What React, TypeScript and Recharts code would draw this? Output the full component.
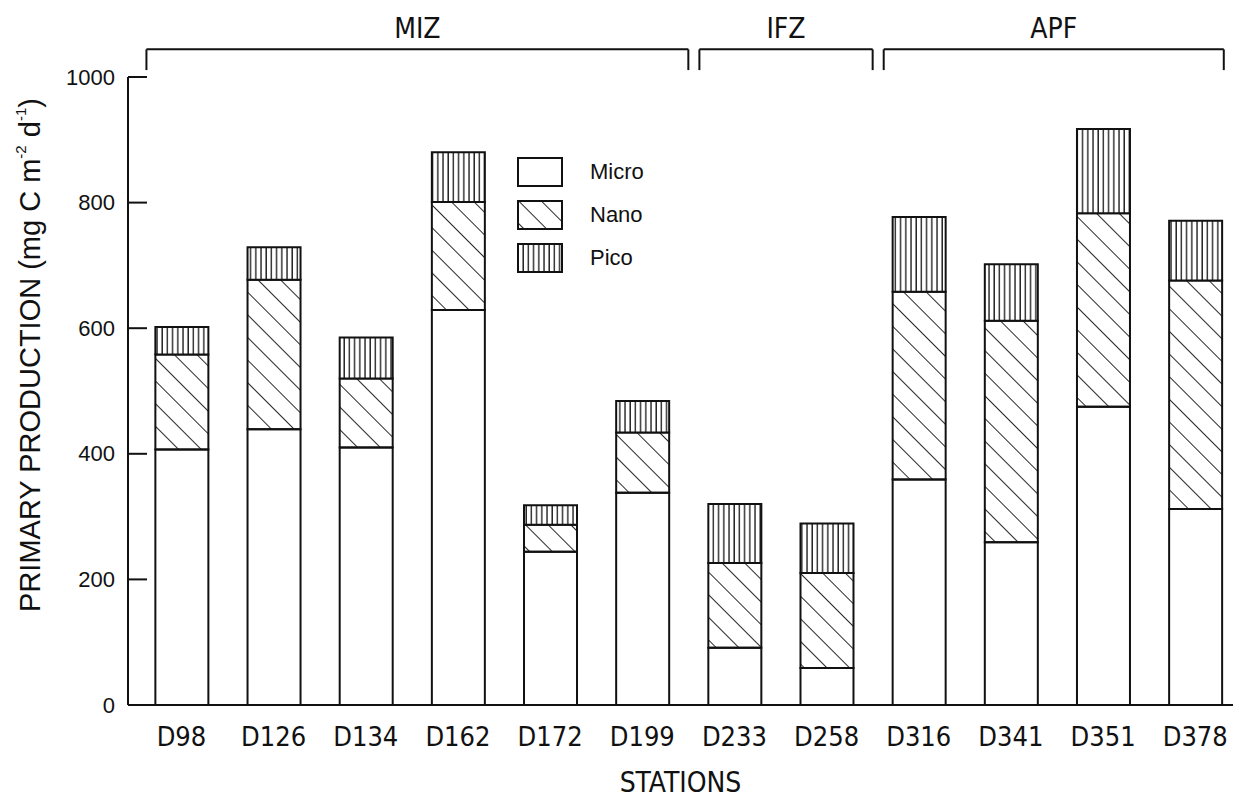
import React from 'react';
import { BarChart, Bar, XAxis, YAxis, ReferenceLine, Legend } from 'recharts';

// sampling stations, in cruise order
const STATIONS = ['D98', 'D126', 'D134', 'D162', 'D172', 'D199', 'D233', 'D258', 'D316', 'D341', 'D351', 'D378'];

// size-fractionated primary production, mg C m-2 d-1
const MICRO = [407, 439, 410, 629, 244, 338, 91, 59, 359, 259, 475, 312];
const NANO = [151, 238, 110, 172, 43, 96, 135, 151, 299, 353, 308, 364];
const PICO = [44, 52, 65, 79, 31, 50, 94, 79, 119, 90, 134, 95];

const Y_TICKS = [0, 200, 400, 600, 800, 1000];

// frontal zones and the stations that fall in each
const ZONES = [
  { name: 'MIZ', first: 'D98', last: 'D199' },
  { name: 'IFZ', first: 'D233', last: 'D258' },
  { name: 'APF', first: 'D316', last: 'D378' },
];

const data = STATIONS.map((station, i) => ({
  x: i,
  station,
  micro: MICRO[i],
  nano: NANO[i],
  pico: PICO[i],
}));

const INK = '#111';
const NARROW = '"Liberation Sans Narrow", "Arial Narrow", "DejaVu Sans Condensed", sans-serif';
const SANS = '"Liberation Sans", Arial, Helvetica, sans-serif';

const X_DOMAIN = [-0.58, 11.41];
const BRACKET_TOP = 1044;
const BRACKET_FOOT = 1011;

const LEGEND_ITEMS = [
  { key: 'micro', label: 'Micro', fill: '#fff' },
  { key: 'nano', label: 'Nano', fill: 'url(#hatchNano)' },
  { key: 'pico', label: 'Pico', fill: 'url(#hatchPico)' },
];

// tick label plus an inward-pointing tick mark
const YTick = (props: any) => {
  const { x, y, payload } = props;
  return (
    <g>
      <line x1={x + 13} x2={x + 32} y1={y} y2={y} stroke={INK} strokeWidth={2} />
      <text x={x} y={y} textAnchor="end" dominantBaseline="central" fontFamily={SANS} fontSize={22} fill={INK}>
        {payload.value}
      </text>
    </g>
  );
};

const YTitle = (props: any) => {
  const { viewBox } = props;
  const cx = 30;
  const cy = viewBox.y + viewBox.height / 2 - 36;
  return (
    <text
      x={cx}
      y={cy}
      transform={`rotate(-90, ${cx}, ${cy})`}
      textAnchor="middle"
      dominantBaseline="central"
      fontFamily={SANS}
      fontSize={29}
      fill={INK}
    >
      PRIMARY PRODUCTION (mg C m
      <tspan dy={-10} fontSize={15}>-2</tspan>
      <tspan dy={10}> d</tspan>
      <tspan dy={-10} fontSize={15}>-1</tspan>
      <tspan dy={10}>)</tspan>
    </text>
  );
};

const PatternLegend = () => (
  <div style={{ fontFamily: SANS, fontSize: 22, color: INK, lineHeight: 1 }}>
    {LEGEND_ITEMS.map((item) => (
      <div key={item.key} style={{ display: 'flex', alignItems: 'center', height: 43 }}>
        <svg width={46} height={30} style={{ display: 'block' }}>
          <rect x={1} y={1} width={44} height={28} fill={item.fill} stroke={INK} strokeWidth={2} />
        </svg>
        <span style={{ marginLeft: 27, fontSize: 22 }}>{item.label}</span>
      </div>
    ))}
  </div>
);

export default function App() {
  return (
    <div style={{ position: 'absolute', left: 0, top: 0, background: '#fff' }}>
      <BarChart
        width={1247}
        height={801}
        data={data}
        margin={{ top: 77, right: 14, bottom: 0, left: 58 }}
        barSize={53}
      >
        <defs>
          <pattern id="hatchNano" patternUnits="userSpaceOnUse" width={16} height={16} patternTransform="rotate(-45)">
            <line x1={0} y1={0} x2={0} y2={16} stroke={INK} strokeWidth={1.8} />
          </pattern>
          <pattern id="hatchPico" patternUnits="userSpaceOnUse" width={5.2} height={10}>
            <rect width={5.2} height={10} fill="#fff" />
            <line x1={1} y1={0} x2={1} y2={10} stroke={INK} strokeWidth={1.3} />
          </pattern>
        </defs>

        <XAxis
          dataKey="x"
          type="number"
          domain={X_DOMAIN}
          allowDataOverflow
          ticks={STATIONS.map((_, i) => i)}
          interval={0}
          tickFormatter={(v: number) => STATIONS[v]}
          tickLine={false}
          tickSize={0}
          tickMargin={22}
          height={96}
          axisLine={{ stroke: INK, strokeWidth: 2 }}
          tick={{ fill: INK, fontFamily: NARROW, fontSize: 27 }}
          label={{ value: 'STATIONS', position: 'insideBottom', offset: 9, fill: INK, fontFamily: NARROW, fontSize: 28 }}
        />
        {/* top and right edges of the frame */}
        <XAxis
          xAxisId="top"
          orientation="top"
          type="number"
          domain={X_DOMAIN}
          allowDataOverflow
          height={0}
          tick={false}
          tickLine={false}
          axisLine={{ stroke: INK, strokeWidth: 2 }}
        />
        <YAxis
          domain={[0, 1000]}
          ticks={Y_TICKS}
          allowDataOverflow
          width={70}
          tickLine={false}
          tickSize={0}
          tickMargin={13}
          tick={<YTick />}
          axisLine={{ stroke: INK, strokeWidth: 2 }}
          label={<YTitle />}
        />
        <YAxis
          yAxisId="right"
          orientation="right"
          domain={[0, 1000]}
          width={0}
          tick={false}
          tickLine={false}
          axisLine={{ stroke: INK, strokeWidth: 2 }}
        />

        <Legend
          layout="vertical"
          verticalAlign="middle"
          align="center"
          content={<PatternLegend />}
          wrapperStyle={{ position: 'absolute', left: 517, top: 150, width: 'auto', height: 'auto' }}
        />

        <Bar dataKey="micro" name="Micro" stackId="size" fill="#fff" stroke={INK} strokeWidth={2} isAnimationActive={false} />
        <Bar dataKey="nano" name="Nano" stackId="size" fill="url(#hatchNano)" stroke={INK} strokeWidth={2} isAnimationActive={false} />
        <Bar dataKey="pico" name="Pico" stackId="size" fill="url(#hatchPico)" stroke={INK} strokeWidth={2} isAnimationActive={false} />

        {/* zone brackets above the plot */}
        {ZONES.map((zone) => {
          const start = STATIONS.indexOf(zone.first) - 0.38;
          const end = Math.min(STATIONS.indexOf(zone.last) + 0.5, 11.31);
          return (
            <React.Fragment key={zone.name}>
              <ReferenceLine
                ifOverflow="visible"
                segment={[{ x: start, y: BRACKET_TOP }, { x: end, y: BRACKET_TOP }]}
                stroke={INK}
                strokeWidth={2}
                label={{ value: zone.name, position: 'top', offset: 11, fill: INK, fontFamily: NARROW, fontSize: 28 }}
              />
              <ReferenceLine
                ifOverflow="visible"
                segment={[{ x: start, y: BRACKET_TOP }, { x: start, y: BRACKET_FOOT }]}
                stroke={INK}
                strokeWidth={2}
              />
              <ReferenceLine
                ifOverflow="visible"
                segment={[{ x: end, y: BRACKET_TOP }, { x: end, y: BRACKET_FOOT }]}
                stroke={INK}
                strokeWidth={2}
              />
            </React.Fragment>
          );
        })}
      </BarChart>
    </div>
  );
}
